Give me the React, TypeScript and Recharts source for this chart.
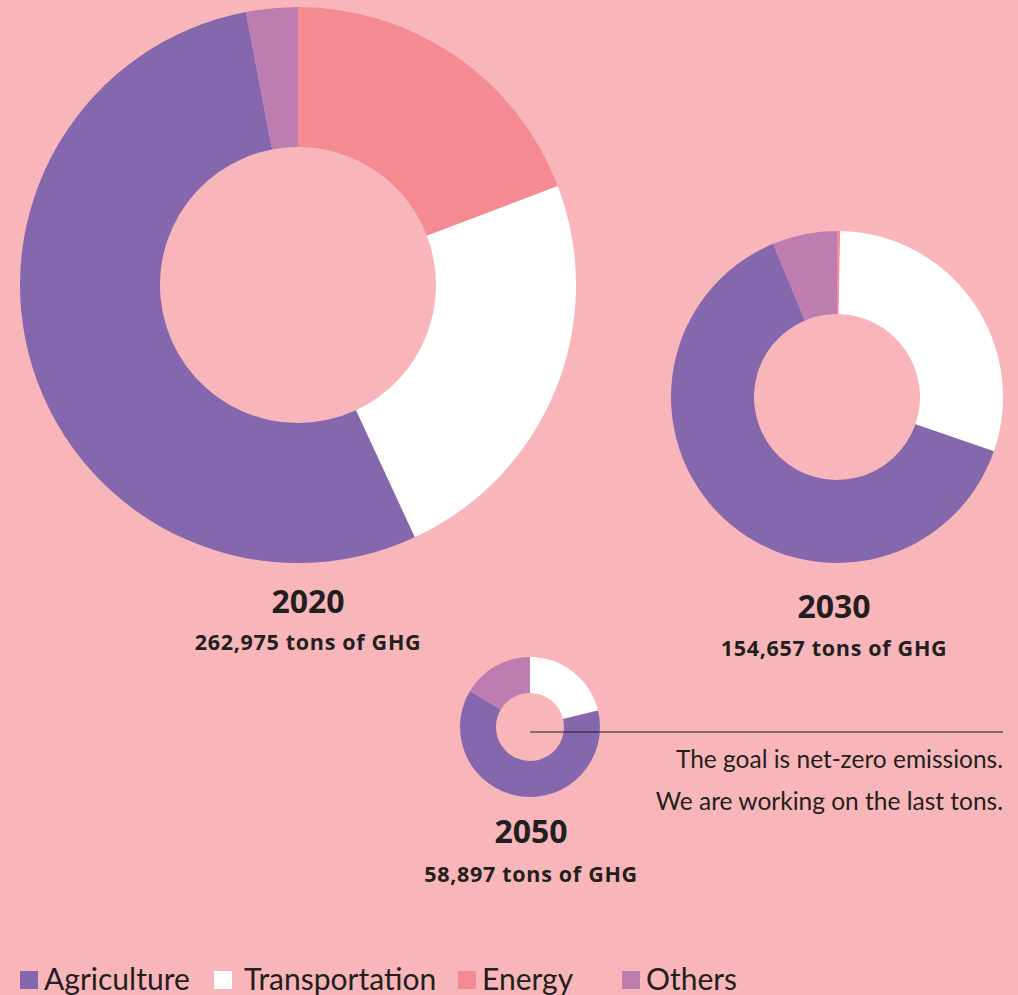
import { PieChart, Pie, Cell } from "recharts";

const categories = ["Energy", "Transportation", "Agriculture", "Others"];
const legendOrder = ["Agriculture", "Transportation", "Energy", "Others"];
const colors: Record<string, string> = {
  Agriculture: "#8567ae",
  Transportation: "#ffffff",
  Energy: "#f48b93",
  Others: "#bd7db1",
};

// share of total emissions per sector (%), clockwise from 12 o'clock
const share2020 = [19.2, 23.9, 53.9, 3.0];
const share2030 = [0.3, 30.0, 63.4, 6.3];
const share2050 = [0, 21.2, 62.4, 16.4];

const years = ["2020", "2030", "2050"];
const totals = ["262,975", "154,657", "58,897"];
const note = ["The goal is net-zero emissions.", "We are working on the last tons."];

const BG = "#f8b6ba";
const INK = "#231f20";
const FONT = "Lato, 'Open Sans', sans-serif";
const BOLD_FONT = "'Open Sans', Lato, sans-serif";

const toRows = (vals: number[]) => categories.map((name, i) => ({ name, value: vals[i] }));

const donuts = [
  { data: toRows(share2020), cx: 298, cy: 285, inner: 138, outer: 278 },
  { data: toRows(share2030), cx: 837, cy: 397, inner: 83, outer: 166 },
  { data: toRows(share2050), cx: 530, cy: 727, inner: 34, outer: 70 },
];

const captions = [
  { x: 308, y1: 613, y2: 650 },
  { x: 834, y1: 618, y2: 656 },
  { x: 531, y1: 843, y2: 882 },
];

// legend item left edges
const legendX = [20, 214, 458, 622];

export default function App() {
  return (
    <div
      style={{
        position: "absolute",
        left: 0,
        top: 0,
        width: 1018,
        height: 995,
        background: BG,
        overflow: "hidden",
        fontFamily: FONT,
      }}
    >
      <PieChart width={1018} height={995} margin={{ top: 0, right: 0, bottom: 0, left: 0 }}>
        {donuts.map((d, k) => (
          <Pie
            key={years[k]}
            data={d.data}
            dataKey="value"
            nameKey="name"
            cx={d.cx}
            cy={d.cy}
            innerRadius={d.inner}
            outerRadius={d.outer}
            startAngle={90}
            endAngle={-270}
            stroke="none"
            isAnimationActive={false}
          >
            {d.data.map((row) => (
              <Cell key={row.name} fill={colors[row.name]} />
            ))}
          </Pie>
        ))}
      </PieChart>

      <svg
        width={1018}
        height={995}
        style={{ position: "absolute", left: 0, top: 0, pointerEvents: "none" }}
      >
        <line x1={530} y1={732} x2={1003} y2={732} stroke={INK} strokeWidth={1.2} />
        {captions.map((c, k) => (
          <g key={years[k]} fill={INK} fontFamily={BOLD_FONT} fontWeight={700} textAnchor="middle">
            <text x={c.x} y={c.y1} fontSize={32}>
              {years[k]}
            </text>
            <text x={c.x} y={c.y2} fontSize={21.5} letterSpacing={0.7}>
              {totals[k]} tons of GHG
            </text>
          </g>
        ))}
        {note.map((t, i) => (
          <text
            key={t}
            x={1003}
            y={768 + i * 42}
            fill={INK}
            fontFamily={FONT}
            fontSize={24.5}
            textAnchor="end"
          >
            {t}
          </text>
        ))}
      </svg>

      {legendOrder.map((name, i) => (
        <div
          key={name}
          style={{
            position: "absolute",
            left: legendX[i],
            top: 960,
            display: "flex",
            alignItems: "center",
            fontSize: 30,
            color: INK,
            lineHeight: "36px",
            whiteSpace: "nowrap",
          }}
        >
          <span
            style={{
              display: "inline-block",
              width: 18,
              height: 18,
              background: colors[name],
              marginRight: i === 1 ? 12 : 6,
              marginTop: 4,
            }}
          />
          {name}
        </div>
      ))}
    </div>
  );
}
